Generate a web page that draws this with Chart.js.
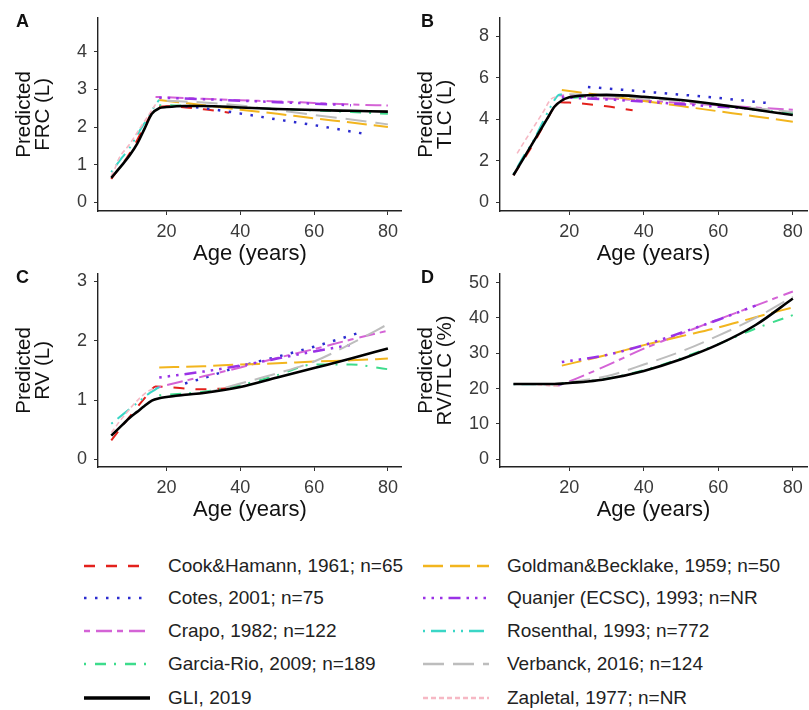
<!DOCTYPE html>
<html>
<head>
<meta charset="utf-8">
<script src="https://cdn.jsdelivr.net/npm/chart.js@4.4.1/dist/chart.umd.min.js"></script>
<style>
  body { margin: 0; background: #fff; width: 809px; height: 710px; position: relative; overflow: hidden;
         font-family: "Liberation Sans", Arial, sans-serif; }
  canvas { position: absolute; }
  .tag { position: absolute; font-weight: bold; font-size: 18px; line-height: 18px; color: #111; }
  .legend-item { position: absolute; display: flex; align-items: center; height: 24px;
                 font-size: 19px; color: #222; white-space: nowrap; }
  .legend-item svg { margin-right: 18px; }
</style>
</head>
<body>
<script>
// axis ticks
const ageTicks = [20, 40, 60, 80];
const frcTicks = [0, 1, 2, 3, 4];
const tlcTicks = [0, 2, 4, 6, 8];
const rvTicks = [0, 1, 2, 3];
const ratioTicks = [0, 10, 20, 30, 40, 50];

// series (age in years)
const cookAge  = [5, 10, 15, 17, 20, 30, 37];
const cookFRC  = [0.62, 1.3, 2.2, 2.52, 2.55, 2.47, 2.38];
const cookTLC  = [1.3, 2.7, 4.3, 4.82, 4.8, 4.62, 4.43];
const cookRV   = [0.32, 0.72, 1.1, 1.23, 1.22, 1.18, 1.2];
const cookRatio = [];

const cotesAge = [25, 30, 40, 50, 60, 73];
const cotesFRC = [2.55, 2.5, 2.36, 2.2, 2.05, 1.83];
const cotesTLC = [5.55, 5.48, 5.33, 5.18, 5.02, 4.78];
const cotesRV  = [1.28, 1.37, 1.57, 1.73, 1.9, 2.15];
const cotesRatio = [];

const crapoAge = [17, 20, 30, 40, 50, 60, 70, 80];
const crapoFRC = [2.8, 2.79, 2.75, 2.71, 2.68, 2.64, 2.6, 2.57];
const crapoTLC = [5.15, 5.12, 5.0, 4.9, 4.78, 4.67, 4.56, 4.45];
const crapoRV  = [1.2, 1.25, 1.4, 1.55, 1.71, 1.86, 2.02, 2.17];
const crapoRatio = [20.8, 22, 26.5, 31.3, 35.5, 39.6, 43.5, 47.5];

const garciaAge = [18, 30, 40, 50, 60, 70, 80];
const garciaFRC = [2.58, 2.56, 2.52, 2.48, 2.44, 2.4, 2.35];
const garciaTLC = [5.0, 5.12, 5.05, 4.9, 4.68, 4.45, 4.3];
const garciaRV  = [1.08, 1.14, 1.25, 1.42, 1.6, 1.6, 1.52];
const garciaRatio = [21.5, 22.8, 25.2, 28.6, 32.6, 37, 40.8];

const gliAge = [5, 8, 10, 12, 14, 16, 18, 20, 25, 30, 40, 50, 60, 70, 80];
const gliFRC = [0.65, 1.0, 1.25, 1.55, 1.95, 2.35, 2.5, 2.53, 2.56, 2.56, 2.52, 2.48, 2.45, 2.43, 2.41];
const gliTLC = [1.3, 2.2, 2.8, 3.4, 4.0, 4.6, 4.9, 5.05, 5.15, 5.17, 5.08, 4.92, 4.7, 4.45, 4.2];
const gliRV  = [0.4, 0.58, 0.7, 0.8, 0.9, 0.99, 1.03, 1.05, 1.09, 1.12, 1.22, 1.38, 1.54, 1.7, 1.87];
const gliRatio = [21.3, 21.3, 21.3, 21.3, 21.3, 21.3, 21.4, 21.6, 22, 22.7, 25, 28.3, 32.5, 38, 45.5];

const goldmanAge = [18, 30, 40, 50, 60, 70, 80];
const goldmanFRC = [2.72, 2.58, 2.46, 2.35, 2.23, 2.12, 2.0];
const goldmanTLC = [5.4, 5.12, 4.88, 4.63, 4.38, 4.13, 3.88];
const goldmanRV  = [1.55, 1.57, 1.6, 1.62, 1.65, 1.67, 1.7];
const goldmanRatio = [26.5, 29.5, 32.3, 34.8, 37.3, 40.2, 43];

const quanjerAge = [18, 30, 40, 50, 60, 70];
const quanjerFRC = [2.78, 2.74, 2.7, 2.66, 2.62, 2.58];
const quanjerTLC = [5.05, 4.95, 4.85, 4.72, 4.6, 4.5];
const quanjerRV  = [1.38, 1.48, 1.58, 1.7, 1.82, 1.93];
const quanjerRatio = [27.5, 29.5, 32.3, 35.8, 39.5, 43.5];

const rosenthalAge = [5, 8, 10, 13, 15, 17, 18];
const rosenthalFRC = [0.8, 1.2, 1.45, 1.95, 2.25, 2.6, 2.72];
const rosenthalTLC = [1.35, 2.3, 2.85, 3.9, 4.6, 5.15, 5.2];
const rosenthalRV  = [0.6, 0.75, 0.85, 1.0, 1.1, 1.18, 1.22];
const rosenthalRatio = [21.2, 21.2, 21.2, 21.2, 21.2, 21.2, 21.2];

const verbanckAge = [20, 30, 40, 50, 60, 70, 80];
const verbanckFRC = [2.7, 2.65, 2.57, 2.45, 2.32, 2.2, 2.07];
const verbanckTLC = [5.2, 5.12, 5.0, 4.87, 4.7, 4.53, 4.35];
const verbanckRV  = [1.05, 1.12, 1.28, 1.45, 1.65, 1.95, 2.28];
const verbanckRatio = [21.8, 23.5, 26.8, 30.5, 35, 40, 46];

const zapletalAge = [5, 6, 7, 10, 13, 15, 17];
const zapletalFRC = [0.7, 0.9, 1.15, 1.55, 2.0, 2.3, 2.6];
const zapletalTLC = [null, 2.35, 2.65, 3.5, 4.35, 4.95, 5.1];
const zapletalRV  = [0.45, 0.53, 0.62, 0.85, 1.05, 1.15, 1.2];
const zapletalRatio = [21.3, 21.3, 21.3, 21.2, 21.0, 20.8, 20.7];

const studies = [
  { name: 'Cook&Hamann, 1961; n=65', color: '#E3211C', dash: [11, 11], width: 2,
    age: cookAge, frc: cookFRC, tlc: cookTLC, rv: cookRV, ratio: cookRatio },
  { name: 'Cotes, 2001; n=75', color: '#2B2BCF', dash: [2.5, 8.5], width: 2.5,
    age: cotesAge, frc: cotesFRC, tlc: cotesTLC, rv: cotesRV, ratio: cotesRatio },
  { name: 'Crapo, 1982; n=122', color: '#D463D6', dash: [6, 6, 16, 5], width: 2,
    age: crapoAge, frc: crapoFRC, tlc: crapoTLC, rv: crapoRV, ratio: crapoRatio },
  { name: 'Garcia-Rio, 2009; n=189', color: '#3DDC8C', dash: [2, 9, 11, 8], width: 2,
    age: garciaAge, frc: garciaFRC, tlc: garciaTLC, rv: garciaRV, ratio: garciaRatio },
  { name: 'GLI, 2019', color: '#000000', dash: [], width: 2.6,
    age: gliAge, frc: gliFRC, tlc: gliTLC, rv: gliRV, ratio: gliRatio },
  { name: 'Goldman&Becklake, 1959; n=50', color: '#F2B51E', dash: [20, 7], width: 2,
    age: goldmanAge, frc: goldmanFRC, tlc: goldmanTLC, rv: goldmanRV, ratio: goldmanRatio },
  { name: 'Quanjer (ECSC), 1993; n=NR', color: '#9A32E6', dash: [2.5, 6, 2.5, 6, 2.5, 6, 12, 6], width: 2.5,
    age: quanjerAge, frc: quanjerFRC, tlc: quanjerTLC, rv: quanjerRV, ratio: quanjerRatio },
  { name: 'Rosenthal, 1993; n=772', color: '#3AD6C6', dash: [2, 6, 15, 7, 2, 6], width: 2,
    age: rosenthalAge, frc: rosenthalFRC, tlc: rosenthalTLC, rv: rosenthalRV, ratio: rosenthalRatio },
  { name: 'Verbanck, 2016; n=124', color: '#BDBDBD', dash: [21, 9], width: 2,
    age: verbanckAge, frc: verbanckFRC, tlc: verbanckTLC, rv: verbanckRV, ratio: verbanckRatio },
  { name: 'Zapletal, 1977; n=NR', color: '#F6B8C4', dash: [5, 3], width: 1.6,
    age: zapletalAge, frc: zapletalFRC, tlc: zapletalTLC, rv: zapletalRV, ratio: zapletalRatio }
];

const FONT = '"Liberation Sans", Arial, sans-serif';

const panels = [
  { tag: 'A', key: 'frc', ticks: frcTicks, min: -0.23, max: 4.9, title: ['Predicted', 'FRC (L)'], left: 0, top: 0, width: 404 },
  { tag: 'B', key: 'tlc', ticks: tlcTicks, min: -0.42, max: 8.88, title: ['Predicted', 'TLC (L)'], left: 402, top: 0, width: 407 },
  { tag: 'C', key: 'rv', ticks: rvTicks, min: -0.13, max: 3.13, title: ['Predicted', 'RV (L)'], left: 0, top: 256, width: 404 },
  { tag: 'D', key: 'ratio', ticks: ratioTicks, min: -2.2, max: 52.5, title: ['Predicted', 'RV/TLC (%)'], left: 402, top: 256, width: 407 }
];

function buildPanel(p) {
  const canvas = document.createElement('canvas');
  canvas.width = p.width;
  canvas.height = 265;
  canvas.style.left = p.left + 'px';
  canvas.style.top = p.top + 'px';
  document.body.appendChild(canvas);

  const tag = document.createElement('div');
  tag.className = 'tag';
  tag.textContent = p.tag;
  tag.style.left = (p.left + 16 + (p.left ? 3 : 0)) + 'px';
  tag.style.top = (p.top + 12) + 'px';
  document.body.appendChild(tag);

  const datasets = studies
    .filter(s => s[p.key].length)
    .map(s => ({
      label: s.name,
      data: s.age.map((a, j) => ({ x: a, y: s[p.key][j] })),
      borderColor: s.color,
      borderWidth: s.width,
      borderDash: s.dash,
      pointRadius: 0,
      fill: false,
      cubicInterpolationMode: 'monotone',
      // GLI drawn last, the others in legend order
      order: s.name.startsWith('GLI') ? 0 : 20 - studies.indexOf(s)
    }));

  new Chart(canvas, {
    type: 'line',
    data: { datasets: datasets },
    options: {
      responsive: false,
      animation: false,
      devicePixelRatio: 1,
      layout: { padding: { top: 11, right: 2, left: 0, bottom: 0 } },
      plugins: { legend: { display: false }, tooltip: { enabled: false } },
      scales: {
        x: {
          type: 'linear',
          min: 1.4,
          max: 83.8,
          afterBuildTicks: s => { s.ticks = ageTicks.map(v => ({ value: v })); },
          afterFit: s => { s.height = 54; },
          grid: { drawOnChartArea: false, drawTicks: true, tickLength: 4, color: '#333' },
          border: { display: true, color: '#222', width: 1.4 },
          ticks: { color: '#3a3a3a', font: { size: 18, family: FONT }, padding: 6, maxRotation: 0 },
          title: { display: true, text: 'Age (years)', color: '#111',
                   font: { size: 22, family: FONT, lineHeight: 1 }, padding: { top: 0, bottom: 0 } }
        },
        y: {
          type: 'linear',
          min: p.min,
          max: p.max,
          afterBuildTicks: s => { s.ticks = p.ticks.map(v => ({ value: v })); },
          afterFit: s => { s.width = 98; },
          grid: { drawOnChartArea: false, drawTicks: true, tickLength: 4, color: '#333' },
          border: { display: true, color: '#222', width: 1.4 },
          ticks: { color: '#3a3a3a', font: { size: 18, family: FONT }, padding: 7 },
          title: { display: true, text: p.title, color: '#111',
                   font: { size: 20.5, family: FONT, lineHeight: 0.9 }, padding: { top: 15.5, bottom: 0 } }
        }
      }
    }
  });
}

panels.forEach(buildPanel);

// legend: two columns, five rows
const legendRows = [566, 598, 631, 664, 698];
const legendCols = [84, 423];
studies.forEach((s, i) => {
  const col = Math.floor(i / 5), row = i % 5;
  const item = document.createElement('div');
  item.className = 'legend-item';
  item.style.left = legendCols[col] + 'px';
  item.style.top = (legendRows[row] - 12) + 'px';
  const w = s.dash.length ? 2.6 : 3.4;
  item.innerHTML = '<svg width="66" height="10"><line x1="0" y1="5" x2="66" y2="5" stroke="' + s.color +
    '" stroke-width="' + w + '"' + (s.dash.length ? ' stroke-dasharray="' + s.dash.join(' ') + '"' : '') +
    '/></svg><span></span>';
  item.querySelector('span').textContent = s.name;
  document.body.appendChild(item);
});
</script>
</body>
</html>
